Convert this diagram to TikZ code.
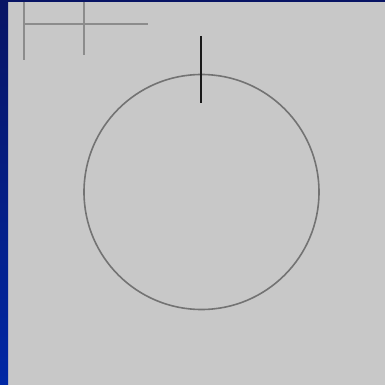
\documentclass[tikz,border=0pt]{standalone}
\begin{document}
\begin{tikzpicture}[x=1pt,y=-1pt,
  thinline/.style={draw=black!45,line width=1.6pt},
  ringline/.style={draw=black!55,line width=1.6pt},
  tickline/.style={draw=black!90,line width=2pt}]
\definecolor{bgray}{RGB}{200,200,200}
\definecolor{navytop}{RGB}{8,20,100}
\definecolor{bluebot}{RGB}{0,40,165}
\useasboundingbox (0,0) rectangle (385,385);
\fill[bgray] (0,0) rectangle (385,385);
\shade[top color=navytop,bottom color=bluebot] (0,0) rectangle (8,385);
\fill[navytop] (0,0) rectangle (385,2);
% top-left cross
\draw[thinline] (24,2) -- (24,60);
\draw[thinline] (84,2) -- (84,55);
\draw[thinline] (24,24) -- (148,24);
% circle and tick
\draw[ringline] (201.5,192) circle (117.5);
\draw[tickline] (201,36) -- (201,103);
\end{tikzpicture}
\end{document}
